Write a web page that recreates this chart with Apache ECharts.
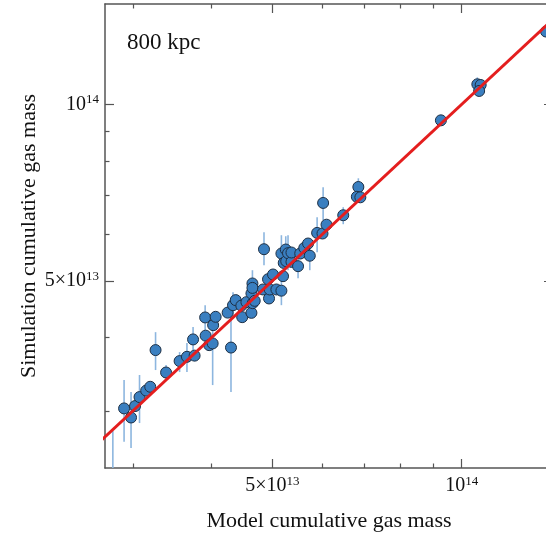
<!DOCTYPE html>
<html>
<head>
<meta charset="utf-8">
<script src="https://cdn.jsdelivr.net/npm/echarts@6/dist/echarts.min.js"></script>
<style>
  html, body { margin: 0; padding: 0; background: #fff; }
  #chart { width: 546px; height: 539px; }
</style>
</head>
<body>
<div id="chart"></div>
<script>
// cumulative gas masses, in units of 1e13
const modelMass = [2.789, 2.906, 2.981, 3.025, 3.075, 3.151, 3.198, 3.261, 3.389, 3.561,
  3.658, 3.762, 3.741, 3.910, 3.917, 3.968, 4.019, 4.026, 4.063, 4.246,
  4.298, 4.330, 4.373, 4.464, 4.478, 4.548, 4.632, 4.632, 4.654, 4.649,
  4.649, 4.688, 4.833, 4.850, 4.922, 4.940, 4.952, 5.013, 5.075, 5.169,
  5.169, 5.200, 5.213, 5.252, 5.261, 5.296, 5.363, 5.363, 5.494, 5.538,
  5.620, 5.699, 5.735, 5.891, 6.008, 6.097, 6.022, 6.482, 6.851, 6.813,
  6.901, 9.268, 10.59, 10.72, 10.66, 13.62];
const simMass = [2.287, 3.030, 2.924, 3.058, 3.168, 3.250, 3.299, 3.810, 3.489, 3.649,
  3.711, 3.728, 3.973, 4.331, 4.032, 3.885, 3.911, 4.202, 4.342, 4.414,
  3.848, 4.545, 4.636, 4.536, 4.336, 4.599, 4.759, 4.410, 4.581, 4.949,
  4.864, 4.623, 4.834, 5.662, 5.033, 4.666, 4.834, 5.127, 4.834, 4.811,
  5.567, 5.093, 5.365, 5.655, 5.402, 5.574, 5.387, 5.589, 5.297, 5.567,
  5.690, 5.790, 5.519, 6.036, 6.022, 6.234, 6.790, 6.470, 7.229, 6.956,
  6.942, 9.392, 10.82, 10.79, 10.54, 13.31];
// error bar ends (null = bar hidden behind the marker)
const simLow = [1.88, 2.659, 2.594, null, 2.861, null, null, 3.523, 3.388, 3.495,
  3.495, null, 3.810, 4.120, null, null, 3.321, null, 4.120, null,
  3.231, 4.336, null, null, null, null, null, null, null, 4.690,
  null, null, null, 5.318, null, null, null, null, null, 4.545,
  5.276, null, null, 5.380, null, 5.214, null, null, 5.053, null,
  null, null, 5.214, 5.596, null, null, 6.344, 6.246, 7.052, null,
  null, null, 10.56, null, null, null];
const simHigh = [2.773, 3.388, 3.231, null, 3.455, null, null, 4.088, 3.592, 3.780,
  3.916, null, 4.170, 4.545, null, null, 4.236, null, 4.423, null,
  4.510, 4.783, null, null, null, null, null, null, null, 5.214,
  null, null, null, 6.052, null, null, null, null, null, 5.153,
  5.982, null, null, 5.958, null, 5.982, null, null, 5.530, null,
  null, null, 5.796, 6.419, null, null, 7.221, 6.677, 7.480, null,
  null, null, 11.12, null, null, null];
const oneToOne = [2.5, 15];
const majorTicks = [5, 10];
const minorTicks = [3, 4, 6, 7, 8, 9];
const xRange = [2.71, 13.97];
const yRange = [2.398, 14.83];

const serif = '"Liberation Serif", "DejaVu Serif", serif';
const axisGray = '#555';

function tickLabel(v) {
  return Math.round(v) >= 10 ? '{b|10}{s|14}' : '{b|5×10}{s|13}';
}

const labelRich = {
  b: { fontFamily: serif, fontSize: 20, color: '#111', lineHeight: 22 },
  s: { fontFamily: serif, fontSize: 13, color: '#111', lineHeight: 13, verticalAlign: 'top' }
};

function makeAxis(range, position, ticks, len, main) {
  return {
    type: 'log',
    position: position,
    min: range[0],
    max: range[1],
    axisLine: { show: main, lineStyle: { color: axisGray, width: 1.5 } },
    axisTick: { show: true, inside: true, length: len, customValues: ticks,
      lineStyle: { color: axisGray, width: 1.2 } },
    axisLabel: { show: false },
    splitLine: { show: false },
    minorTick: { show: false }
  };
}

const xAxes = [
  makeAxis(xRange, 'bottom', majorTicks, 9, true),
  makeAxis(xRange, 'bottom', minorTicks, 4.5, false),
  makeAxis(xRange, 'top', majorTicks, 9, true),
  makeAxis(xRange, 'top', minorTicks, 4.5, false)
];
xAxes[0].axisLabel = { show: true, customValues: majorTicks, margin: 7,
  formatter: tickLabel, rich: labelRich };
xAxes[0].name = 'Model cumulative gas mass';
xAxes[0].nameLocation = 'middle';
xAxes[0].nameGap = 42;
xAxes[0].nameTextStyle = { fontFamily: serif, fontSize: 22, color: '#111' };

const yAxes = [
  makeAxis(yRange, 'left', majorTicks, 9, true),
  makeAxis(yRange, 'left', minorTicks, 4.5, false),
  makeAxis(yRange, 'right', majorTicks, 9, true),
  makeAxis(yRange, 'right', minorTicks, 4.5, false)
];
yAxes[0].axisLabel = { show: true, customValues: majorTicks, margin: 6,
  formatter: tickLabel, rich: labelRich };
yAxes[0].name = 'Simulation cumulative gas mass';
yAxes[0].nameLocation = 'middle';
yAxes[0].nameGap = 65;
yAxes[0].nameMoveOverlap = false;
yAxes[0].nameTextStyle = { fontFamily: serif, fontSize: 22, color: '#111' };

const points = modelMass.map((x, i) => [x, simMass[i]]);
const bars = [];
modelMass.forEach((x, i) => {
  if (simLow[i] != null) bars.push([x, simLow[i], simHigh[i]]);
});

const chart = echarts.init(document.getElementById('chart'));
chart.setOption({
  animation: false,
  // the right edge of the frame sits just past the window
  grid: { left: 105, width: 448, top: 4, bottom: 71, outerBoundsMode: 'none' },
  xAxis: xAxes,
  yAxis: yAxes,
  graphic: [{
    type: 'text', left: 127, top: 31,
    style: { text: '800 kpc', fontFamily: serif, fontSize: 23, fill: '#111' }
  }],
  series: [
    {
      type: 'custom',
      clip: true,
      z: 1,
      data: bars,
      renderItem: function (params, api) {
        const a = api.coord([api.value(0), api.value(1)]);
        const b = api.coord([api.value(0), api.value(2)]);
        return {
          type: 'line',
          shape: { x1: a[0], y1: a[1], x2: b[0], y2: b[1] },
          style: { stroke: '#8db6df', lineWidth: 1.6 }
        };
      }
    },
    {
      type: 'scatter',
      clip: true,
      z: 2,
      symbolSize: 11,
      data: points,
      itemStyle: { color: '#3a7fc0', borderColor: '#1d2f44', borderWidth: 1, opacity: 1 }
    },
    {
      type: 'line',
      clip: true,
      z: 3,
      symbol: 'none',
      data: oneToOne.map(v => [v, v]),
      lineStyle: { color: '#e41e1e', width: 3 }
    }
  ]
});
</script>
</body>
</html>
